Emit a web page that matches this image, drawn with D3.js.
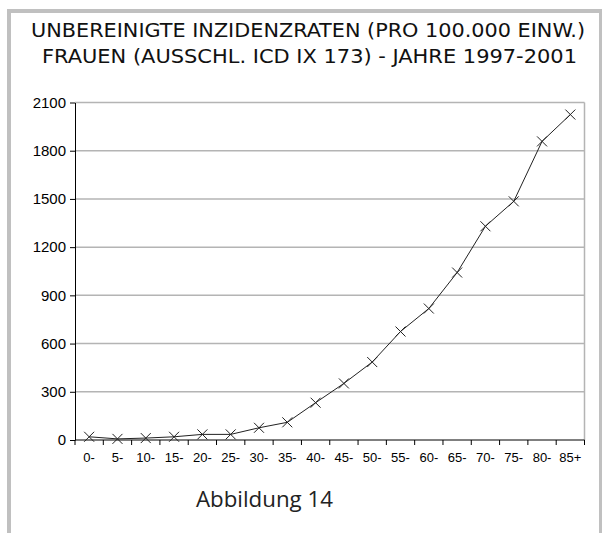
<!DOCTYPE html>
<html>
<head>
<meta charset="utf-8">
<script src="https://cdn.jsdelivr.net/npm/d3@7"></script>
<style>
  body { margin: 0; background: #fff; }
  svg { display: block; }
</style>
</head>
<body>
<script>
// age groups and rates
var ageGroups = ["0-", "5-", "10-", "15-", "20-", "25-", "30-", "35-", "40-", "45-",
                 "50-", "55-", "60-", "65-", "70-", "75-", "80-", "85+"];
var rates = [20, 7, 12, 20, 35, 35, 76, 110, 232, 352,
             485, 675, 818, 1042, 1330, 1485, 1858, 2025];
var yTicks = [0, 300, 600, 900, 1200, 1500, 1800, 2100];
var titleLines = ["UNBEREINIGTE INZIDENZRATEN (PRO 100.000 EINW.)",
                  "FRAUEN (AUSSCHL. ICD IX 173) - JAHRE 1997-2001"];
var caption = "Abbildung 14";

var width = 602, height = 533;
var plot = {left: 75, right: 584.5, top: 102.5, bottom: 440};

var svg = d3.select("body").append("svg")
    .attr("width", width)
    .attr("height", height);

// outer gray frame (no bottom edge visible)
svg.append("rect")
    .attr("x", 9).attr("y", 11)
    .attr("width", 592).attr("height", 540)
    .attr("fill", "#fff")
    .attr("stroke", "#c0c0c0")
    .attr("stroke-width", 4);

// title
svg.selectAll(".title")
    .data(titleLines)
    .enter().append("text")
    .attr("class", "title")
    .attr("x", function(d, i){ return i == 0 ? 308 : 309.5; })
    .attr("y", function(d, i){ return 37 + i * 25.5; })
    .attr("text-anchor", "middle")
    .attr("textLength", function(d, i){ return i == 0 ? 554 : 535; })
    .attr("lengthAdjust", "spacingAndGlyphs")
    .style("font-family", "'Liberation Sans Narrow', 'DejaVu Sans Condensed', sans-serif")
    .style("font-size", "19.5px")
    .style("fill", "#111")
    .text(function(d){ return d; });

var x = d3.scaleBand()
    .domain(ageGroups)
    .range([plot.left, plot.right]);

var y = d3.scaleLinear()
    .domain([0, 2100])
    .range([plot.bottom, plot.top]);

// gridlines
svg.selectAll(".grid")
    .data(yTicks.slice(1))
    .enter().append("line")
    .attr("class", "grid")
    .attr("x1", plot.left).attr("x2", plot.right)
    .attr("y1", function(d){ return y(d); })
    .attr("y2", function(d){ return y(d); })
    .attr("stroke", "#b4b4b4")
    .attr("stroke-width", 1.5);

// plot area right border
svg.append("line")
    .attr("x1", plot.right).attr("x2", plot.right)
    .attr("y1", plot.top).attr("y2", plot.bottom)
    .attr("stroke", "#b4b4b4")
    .attr("stroke-width", 1.5);

// y axis
var yAxis = svg.append("g")
    .attr("transform", "translate(" + plot.left + ",0)")
    .call(d3.axisLeft(y).tickValues(yTicks).tickFormat(d3.format("d"))
        .tickSize(5).tickPadding(4).tickSizeOuter(0));
yAxis.select(".domain").attr("stroke", "#000");
yAxis.selectAll("text")
    .style("font-family", "'Liberation Sans', Arial, sans-serif")
    .style("font-size", "15px")
    .style("fill", "#000");

// x axis, ticks at the category boundaries
var xAxis = svg.append("g")
    .attr("transform", "translate(0," + plot.bottom + ")")
    .call(d3.axisBottom(x).tickSize(0).tickPadding(13));
xAxis.select(".domain").attr("d", "M" + plot.left + ",0H" + plot.right).attr("stroke", "#000");
xAxis.selectAll("text")
    .style("font-family", "'Liberation Sans', Arial, sans-serif")
    .style("font-size", "13px")
    .style("fill", "#000");

var bounds = ageGroups.map(function(d){ return x(d); }).concat([plot.right]);
xAxis.selectAll(".bound")
    .data(bounds)
    .enter().append("line")
    .attr("class", "bound")
    .attr("x1", function(d){ return d; }).attr("x2", function(d){ return d; })
    .attr("y1", 0).attr("y2", 5)
    .attr("stroke", "#000");

// line
var line = d3.line()
    .x(function(d, i){ return x(ageGroups[i]) + x.bandwidth() / 2; })
    .y(function(d){ return y(d); });

svg.append("path")
    .datum(rates)
    .attr("d", line)
    .attr("fill", "none")
    .attr("stroke", "#222")
    .attr("stroke-width", 1);

// X markers
var s = 5;
svg.selectAll(".marker")
    .data(rates)
    .enter().append("path")
    .attr("class", "marker")
    .attr("transform", function(d, i){
        return "translate(" + (x(ageGroups[i]) + x.bandwidth() / 2) + "," + y(d) + ")";
    })
    .attr("d", "M" + (-s) + "," + (-s) + "L" + s + "," + s + "M" + (-s) + "," + s + "L" + s + "," + (-s))
    .attr("stroke", "#222")
    .attr("stroke-width", 1);

// caption
svg.append("text")
    .attr("x", 264.5)
    .attr("y", 507)
    .attr("text-anchor", "middle")
    .attr("textLength", 137)
    .attr("lengthAdjust", "spacingAndGlyphs")
    .style("font-family", "'Open Sans', 'Noto Sans', sans-serif")
    .style("font-size", "21.5px")
    .style("fill", "#222")
    .text(caption);
</script>
</body>
</html>
